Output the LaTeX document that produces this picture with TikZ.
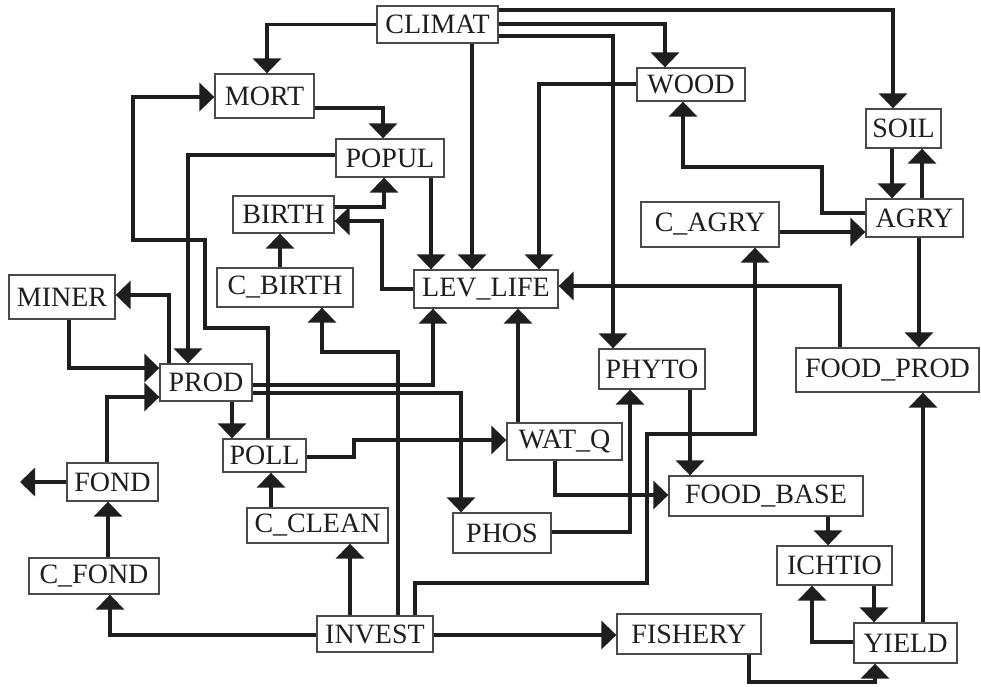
\documentclass[tikz,border=0pt]{standalone}
\usepackage{fontspec}
\setmainfont{Liberation Serif}
\usetikzlibrary{arrows.meta}
\definecolor{ink}{HTML}{1E1E1E}
\definecolor{boxline}{HTML}{4A4A4A}
\begin{document}
\begin{tikzpicture}[x=1pt,y=-1pt,
  box/.style={draw=boxline, line width=1.3pt, inner sep=0pt, text=ink,
    font=\fontsize{28}{30}\selectfont},
  arr/.style={draw=ink, line width=3.5pt, -{Triangle[length=15pt,width=28pt]}}]
\useasboundingbox (0,0) rectangle (981,686);
% nodes
\node[box, minimum width=121pt, minimum height=37pt] (CLIMAT) at (437.5,24.5) {CLIMAT};
\node[box, minimum width=99pt, minimum height=44pt] (MORT) at (264.5,96) {MORT};
\node[box, minimum width=108pt, minimum height=38pt] (POPUL) at (390,158) {POPUL};
\node[box, minimum width=101pt, minimum height=37pt] (BIRTH) at (283.5,214.5) {BIRTH};
\node[box, minimum width=108pt, minimum height=33pt] (WOOD) at (691,84.5) {WOOD};
\node[box, minimum width=75pt, minimum height=39pt] (SOIL) at (903.5,128.5) {SOIL};
\node[box, minimum width=97pt, minimum height=38pt] (AGRY) at (914.5,218) {AGRY};
\node[box, minimum width=138pt, minimum height=45pt] (CAGRY) at (710,224.5) {C\_AGRY};
\node[box, minimum width=106pt, minimum height=44pt] (MINER) at (62,297) {MINER};
\node[box, minimum width=136pt, minimum height=39pt] (CBIRTH) at (285,287.5) {C\_BIRTH};
\node[box, minimum width=144pt, minimum height=38pt] (LEV) at (486,289) {LEV\_LIFE};
\node[box, minimum width=92pt, minimum height=37pt] (PROD) at (206,382.5) {PROD};
\node[box, minimum width=106pt, minimum height=40pt] (PHYTO) at (652,369) {PHYTO};
\node[box, minimum width=183pt, minimum height=44pt] (FP) at (887.5,370) {FOOD\_PROD};
\node[box, minimum width=115pt, minimum height=37pt] (WATQ) at (564.5,441.5) {WAT\_Q};
\node[box, minimum width=83pt, minimum height=33pt] (POLL) at (264.5,455.5) {POLL};
\node[box, minimum width=91pt, minimum height=38pt] (FOND) at (112.5,482) {FOND};
\node[box, minimum width=141pt, minimum height=35pt] (CCLEAN) at (317.5,525.5) {C\_CLEAN};
\node[box, minimum width=98pt, minimum height=40pt] (PHOS) at (502,533) {PHOS};
\node[box, minimum width=194pt, minimum height=40pt] (FB) at (766,496) {FOOD\_BASE};
\node[box, minimum width=130pt, minimum height=36pt] (CFOND) at (94,576) {C\_FOND};
\node[box, minimum width=115pt, minimum height=39pt] (ICHTIO) at (834.5,565.5) {ICHTIO};
\node[box, minimum width=116pt, minimum height=36pt] (INVEST) at (375,634) {INVEST};
\node[box, minimum width=144pt, minimum height=40pt] (FISHERY) at (689,634) {FISHERY};
\node[box, minimum width=103pt, minimum height=40pt] (YIELD) at (905.5,643) {YIELD};
\coordinate (out) at (20,482);
% connectors
\draw[arr] (CLIMAT.west) -| (MORT.north -| 267,0);
\draw[arr] (CLIMAT.east |- 0,10) -| (SOIL.north -| 893,0);
\draw[arr] (CLIMAT.east |- 0,24) -| (WOOD.north -| 665,0);
\draw[arr] (CLIMAT.east |- 0,36) -| (PHYTO.north -| 613,0);
\draw[arr] (CLIMAT.south -| 472,0) -- (LEV.north -| 472,0);
\draw[arr] (WOOD.west |- 0,84) -| (LEV.north -| 539,0);
\draw[arr] (MORT.east |- 0,108) -| (POPUL.north -| 383,0);
\draw[arr] (POPUL.west |- 0,155) -| (PROD.north -| 188,0);
\draw[arr] (POPUL.south -| 431,0) -- (LEV.north -| 431,0);
\draw[arr] (BIRTH.east |- 0,207) -| (POPUL.south -| 384,0);
\draw[arr] (LEV.west) -| (382,221) -- (BIRTH.east |- 0,221);
\draw[arr] (CBIRTH.north -| 280,0) -- (BIRTH.south -| 280,0);
\draw[arr] (INVEST.north -| 398,0) |- (322,352) -- (CBIRTH.south -| 322,0);
\draw[arr] (POLL.north -| 268,0) |- (205,328) |- (133,240) |- (MORT.west |- 0,97);
\draw[arr] (PROD.north -| 169,0) |- (MINER.east |- 0,295);
\draw[arr] (MINER.south -| 69,0) |- (PROD.west |- 0,368);
\draw[arr] (FOND.north -| 107,0) |- (PROD.west |- 0,397);
\draw[arr] (PROD.east |- 0,385) -| (LEV.south -| 433,0);
\draw[arr] (PROD.east |- 0,393) -| (PHOS.north -| 461,0);
\draw[arr] (PROD.south -| 232,0) -- (POLL.north -| 232,0);
\draw[arr] (POLL.east |- 0,457) -| (354,440) -- (WATQ.west |- 0,440);
\draw[arr] (CCLEAN.north -| 271,0) -- (POLL.south -| 271,0);
\draw[arr] (INVEST.north -| 350,0) -- (CCLEAN.south -| 350,0);
\draw[arr] (INVEST.west |- 0,635) -| (CFOND.south -| 110,0);
\draw[arr] (CFOND.north -| 108,0) -- (FOND.south -| 108,0);
\draw[arr] (FOND.west) -- (out);
\draw[arr] (INVEST.north -| 415,0) |- (647,583) |- (755,434) -- (CAGRY.south -| 755,0);
\draw[arr] (INVEST.east |- 0,635) -- (FISHERY.west |- 0,635);
\draw[arr] (FISHERY.south -| 749,0) |- (875,682) -- (YIELD.south -| 875,0);
\draw[arr] (YIELD.west |- 0,642) -| (ICHTIO.south -| 812,0);
\draw[arr] (ICHTIO.south -| 874,0) -- (YIELD.north -| 874,0);
\draw[arr] (FB.south -| 828,0) -- (ICHTIO.north -| 828,0);
\draw[arr] (YIELD.north -| 923,0) -- (FP.south -| 923,0);
\draw[arr] (AGRY.south -| 919,0) -- (FP.north -| 919,0);
\draw[arr] (FP.north -| 840,0) |- (LEV.east |- 0,286);
\draw[arr] (WATQ.north -| 518,0) -- (LEV.south -| 518,0);
\draw[arr] (WATQ.south -| 555,0) |- (FB.west |- 0,495);
\draw[arr] (PHOS.east |- 0,532) -| (PHYTO.south -| 630,0);
\draw[arr] (PHYTO.south -| 690,0) -- (FB.north -| 690,0);
\draw[arr] (SOIL.south -| 892,0) -- (AGRY.north -| 892,0);
\draw[arr] (AGRY.north -| 922,0) -- (SOIL.south -| 922,0);
\draw[arr] (AGRY.west |- 0,213) -| (822,167) -| (WOOD.south -| 683,0);
\draw[arr] (CAGRY.east |- 0,232) -- (AGRY.west |- 0,232);
\end{tikzpicture}
\end{document}
